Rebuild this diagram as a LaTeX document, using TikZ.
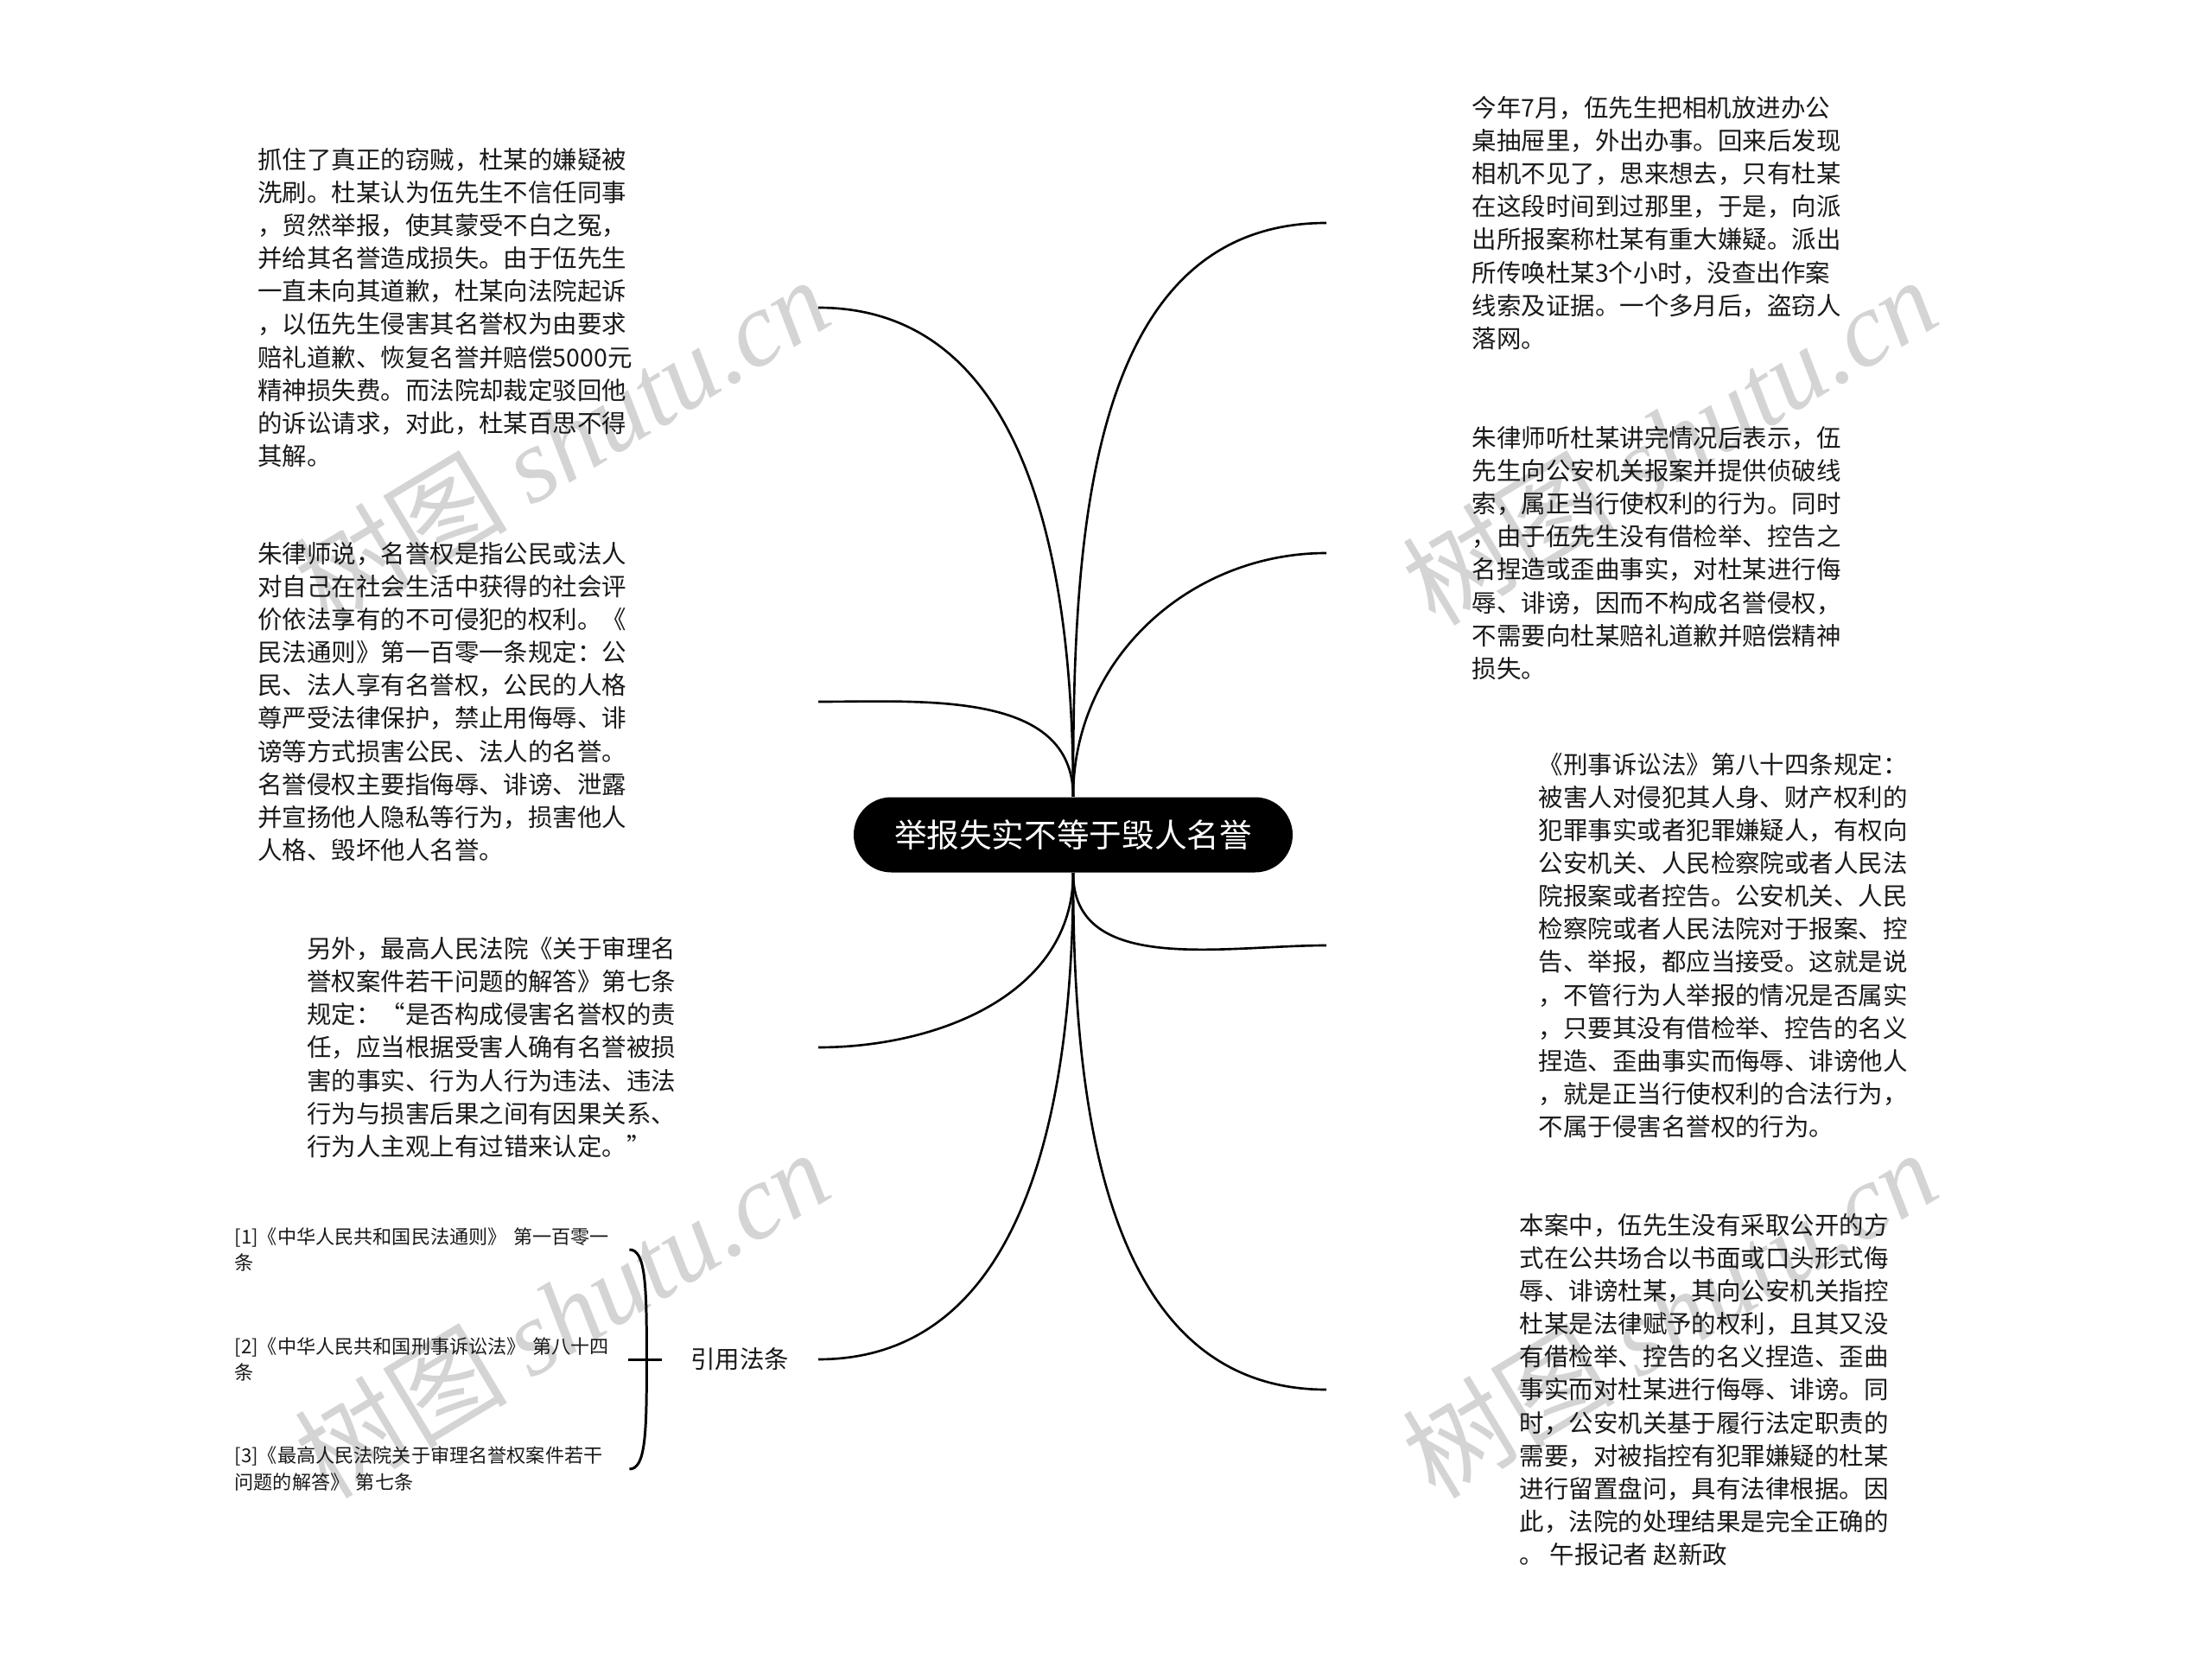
\documentclass[tikz,border=0pt]{standalone}
\usepackage{fontspec}
\setmainfont{Noto Sans CJK SC}
\newfontfamily\wmlatin{Liberation Serif}
\usepackage{tikz}
\usetikzlibrary{positioning}
\newcommand\bodyfont{\fontsize{8.1}{10.85}\selectfont}
\newcommand\reffont{\fontsize{6.3}{8.8}\selectfont}

\begin{document}
\begin{tikzpicture}[
  topic/.style={fill=black,text=white,rounded corners=4.35mm,minimum width=50.8mm,minimum height=8.7mm,inner sep=0pt,font=\fontsize{10.7}{12}\selectfont},
  ltext/.style={anchor=east,align=left,inner sep=0pt,text width=#1,text=black!90,font=\bodyfont},
  rtext/.style={anchor=west,align=left,inner ysep=0pt,inner xsep=#1,text=black!90,font=\bodyfont},
  subtopic/.style={anchor=east,inner ysep=0pt,inner xsep=3.3mm,text=black!90,font=\bodyfont},
  refitem/.style={anchor=west,align=left,inner sep=0pt,text width=45.6mm,text=black!90,font=\reffont},
  branch/.style={line width=0.75pt},
  brace/.style={line width=0.85pt},
  wmark/.style={rotate=31,text=black!17,font=\fontsize{35}{40}\selectfont}
]
\useasboundingbox (0,0) rectangle (25.6,-19.29);

\node[wmark] (wm1) at (6.50,-5.10) {树图 {\wmlatin\itshape shutu.cn}};
\node[wmark] (wm2) at (19.32,-5.10) {树图 {\wmlatin\itshape shutu.cn}};
\node[wmark] (wm3) at (6.50,-15.20) {树图 {\wmlatin\itshape shutu.cn}};
\node[wmark] (wm4) at (19.32,-15.20) {树图 {\wmlatin\itshape shutu.cn}};

\node[topic] (root) at (12.42,-9.66) {举报失实不等于毁人名誉};

\node[ltext=6.48cm] (l1) at (9.47,-3.56) {抓住了真正的窃贼，杜某的嫌疑被\\
洗刷。杜某认为伍先生不信任同事\\
，贸然举报，使其蒙受不白之冤，\\
并给其名誉造成损失。由于伍先生\\
一直未向其道歉，杜某向法院起诉\\
，以伍先生侵害其名誉权为由要求\\
赔礼道歉、恢复名誉并赔偿5000元\\
精神损失费。而法院却裁定驳回他\\
的诉讼请求，对此，杜某百思不得\\
其解。};
\node[ltext=6.48cm] (l2) at (9.47,-8.12) {朱律师说，名誉权是指公民或法人\\
对自己在社会生活中获得的社会评\\
价依法享有的不可侵犯的权利。《\\
民法通则》第一百零一条规定：公\\
民、法人享有名誉权，公民的人格\\
尊严受法律保护，禁止用侮辱、诽\\
谤等方式损害公民、法人的名誉。\\
名誉侵权主要指侮辱、诽谤、泄露\\
并宣扬他人隐私等行为，损害他人\\
人格、毁坏他人名誉。};
\node[ltext=5.91cm] (l3) at (9.47,-12.12) {另外，最高人民法院《关于审理名\\
誉权案件若干问题的解答》第七条\\
规定：“是否构成侵害名誉权的责\\
任，应当根据受害人确有名誉被损\\
害的事实、行为人行为违法、违法\\
行为与损害后果之间有因果关系、\\
行为人主观上有过错来认定。”};
\node[subtopic] (cite) at (9.47,-15.73) {引用法条};

\node[rtext=16.8mm] (r1) at (15.35,-2.58) {今年7月，伍先生把相机放进办公\\
桌抽屉里，外出办事。回来后发现\\
相机不见了，思来想去，只有杜某\\
在这段时间到过那里，于是，向派\\
出所报案称杜某有重大嫌疑。派出\\
所传唤杜某3个小时，没查出作案\\
线索及证据。一个多月后，盗窃人\\
落网。};
\node[rtext=16.8mm] (r2) at (15.35,-6.40) {朱律师听杜某讲完情况后表示，伍\\
先生向公安机关报案并提供侦破线\\
索，属正当行使权利的行为。同时\\
，由于伍先生没有借检举、控告之\\
名捏造或歪曲事实，对杜某进行侮\\
辱、诽谤，因而不构成名誉侵权，\\
不需要向杜某赔礼道歉并赔偿精神\\
损失。};
\node[rtext=24.5mm] (r3) at (15.35,-10.94) {《刑事诉讼法》第八十四条规定：\\
被害人对侵犯其人身、财产权利的\\
犯罪事实或者犯罪嫌疑人，有权向\\
公安机关、人民检察院或者人民法\\
院报案或者控告。公安机关、人民\\
检察院或者人民法院对于报案、控\\
告、举报，都应当接受。这就是说\\
，不管行为人举报的情况是否属实\\
，只要其没有借检举、控告的名义\\
捏造、歪曲事实而侮辱、诽谤他人\\
，就是正当行使权利的合法行为，\\
不属于侵害名誉权的行为。};
\node[rtext=22.3mm] (r4) at (15.35,-16.08) {本案中，伍先生没有采取公开的方\\
式在公共场合以书面或口头形式侮\\
辱、诽谤杜某，其向公安机关指控\\
杜某是法律赋予的权利，且其又没\\
有借检举、控告的名义捏造、歪曲\\
事实而对杜某进行侮辱、诽谤。同\\
时，公安机关基于履行法定职责的\\
需要，对被指控有犯罪嫌疑的杜某\\
进行留置盘问，具有法律根据。因\\
此，法院的处理结果是完全正确的\\
。 午报记者 赵新政};

\node[refitem] (ref2) at (2.71,-15.73) {[2]《中华人民共和国刑事诉讼法》 第八十四\\条};
\node[refitem,above=1.27cm of ref2.west,anchor=west] (ref1) {[1]《中华人民共和国民法通则》 第一百零一\\条};
\node[refitem,below=1.27cm of ref2.west,anchor=west] (ref3) {[3]《最高人民法院关于审理名誉权案件若干\\问题的解答》 第七条};

\draw[branch] (root.north) to[out=90,in=0] (l1.east);
\draw[branch] (root.north) to[out=90,in=0] (l2.east);
\draw[branch] (root.south) to[out=-90,in=0] (l3.east);
\draw[branch] (root.south) to[out=-90,in=0] (cite.east);
\draw[branch] (root.north) to[out=90,in=180] (r1.west);
\draw[branch] (root.north) to[out=90,in=180] (r2.west);
\draw[branch] (root.south) to[out=-90,in=180] (r3.west);
\draw[branch] (root.south) to[out=-90,in=180] (r4.west);

\draw[brace] (ref1.east) .. controls +(0.19,0) and +(0,0.85) .. ([xshift=2mm]ref2.east) .. controls +(0,-0.85) and +(0.19,0) .. (ref3.east);
\draw[brace] ([xshift=-0.1mm]ref2.east) -- (cite.west);
\end{tikzpicture}
\end{document}
